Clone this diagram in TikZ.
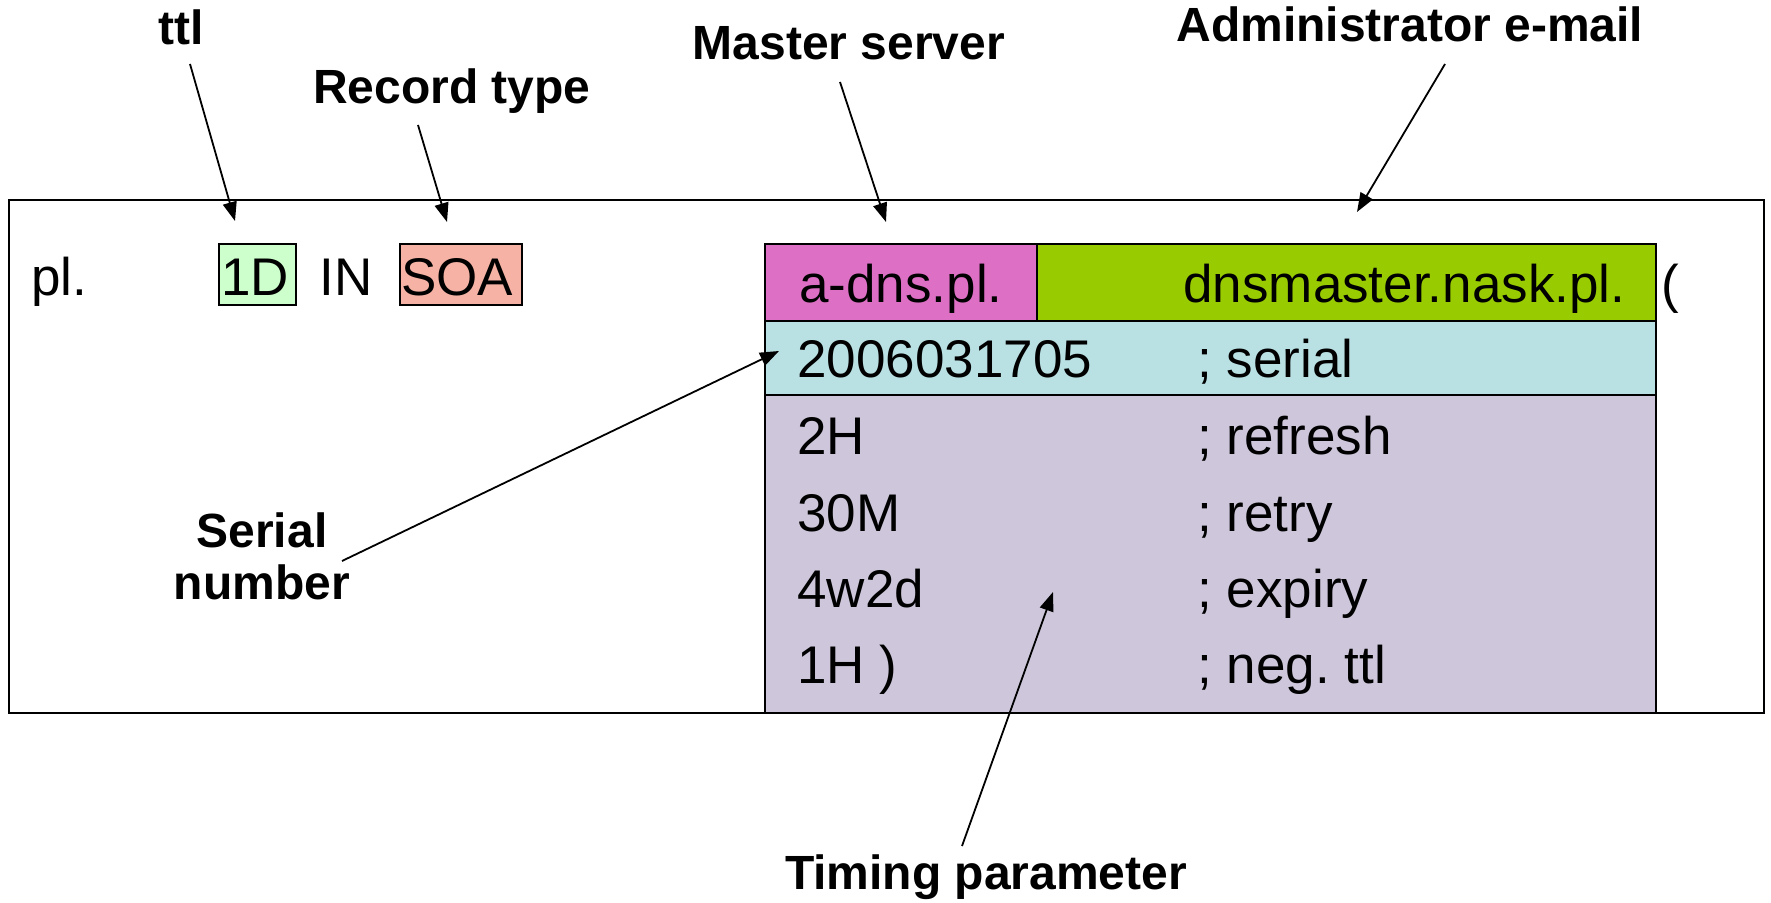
\documentclass[tikz,border=0pt]{standalone}
\usepackage{fontspec}
\setmainfont{Liberation Sans}
\usetikzlibrary{arrows.meta}
\frenchspacing
\definecolor{cttl}{HTML}{CCFFCC}
\definecolor{csoa}{HTML}{F6B3A5}
\definecolor{cpink}{HTML}{DD6FC4}
\definecolor{cgreen}{HTML}{99CC00}
\definecolor{ccyan}{HTML}{B9E0E3}
\definecolor{cpurp}{HTML}{CEC6DA}
\tikzset{
  txt/.style={font=\fontsize{26.5pt}{30pt}\selectfont, inner sep=0pt, anchor=base west},
  lbl/.style={font=\fontsize{24pt}{28pt}\selectfont\bfseries, inner sep=0pt, anchor=base},
  boxline/.style={draw=black, line width=1pt},
  arr/.style={line width=0.9pt, -{Triangle[length=9.5pt,width=7pt]}}
}
\begin{document}
\begin{tikzpicture}[x=0.5pt,y=-0.5pt]
\useasboundingbox (0,0) rectangle (1771,903);
% outer frame
\draw[boxline] (9,200) rectangle (1764,713);
% record boxes
\draw[boxline, fill=cpink] (765,244) rectangle (1037,321);
\draw[boxline, fill=cgreen] (1037,244) rectangle (1656,321);
\draw[boxline, fill=ccyan] (765,321) rectangle (1656,395);
\draw[boxline, fill=cpurp] (765,395) rectangle (1656,713);
\draw[boxline, fill=cttl] (219,244) rectangle (296,305);
\draw[boxline, fill=csoa] (400,244) rectangle (522,305);
% texts
\node[txt] (pl) at (31,296) {pl.};
\node[txt] (ttlv) at (221,296) {1D};
\node[txt] (in) at (319,296) {IN};
\node[txt] (soa) at (401,296) {SOA};
\node[txt, anchor=base] (mname) at (901,303) {a-dns.pl.};
\node[txt] (rname) at (1183,303) {dnsmaster.nask.pl.};
\node[txt] (par) at (1661,303) {(};
\node[txt] (serial) at (797,378) {2006031705};
\node[txt] (serialc) at (1197,378) {; serial};
\node[txt] (refresh) at (797,454) {2H};
\node[txt] (refreshc) at (1197,454) {; refresh};
\node[txt] (retry) at (797,531) {30M};
\node[txt] (retryc) at (1197,531) {; retry};
\node[txt] (expiry) at (797,607) {4w2d};
\node[txt] (expiryc) at (1197,607) {; expiry};
\node[txt] (neg) at (797,683) {1H )};
\node[txt] (negc) at (1197,683) {; neg.\ ttl};
% labels
\node[lbl] (lttl) at (181,45) {ttl};
\node[lbl] (lrec) at (452,104) {Record type};
\node[lbl] (lmaster) at (849,60) {Master server};
\node[lbl] (ladmin) at (1410,42) {Administrator e-mail};
\node[lbl, align=center, anchor=center] (lserial) at (262,556) {Serial\\[-2pt]number};
\node[lbl] (ltiming) at (986,889) {Timing parameter};
% arrow end points
\coordinate (a1s) at (190,64);   \coordinate (a1e) at (235,221);
\coordinate (a2s) at (418,125);  \coordinate (a2e) at (447,222);
\coordinate (a3s) at (840,82);   \coordinate (a3e) at (886,222);
\coordinate (a4s) at (1445,64);  \coordinate (a4e) at (1357,212);
\coordinate (a5s) at (342,561);  \coordinate (a5e) at (779,351);
\coordinate (a6s) at (962,846);  \coordinate (a6e) at (1053,592);
\draw[arr] (a1s) -- (a1e);
\draw[arr] (a2s) -- (a2e);
\draw[arr] (a3s) -- (a3e);
\draw[arr] (a4s) -- (a4e);
\draw[arr] (a5s) -- (a5e);
\draw[arr] (a6s) -- (a6e);
\end{tikzpicture}
\end{document}
